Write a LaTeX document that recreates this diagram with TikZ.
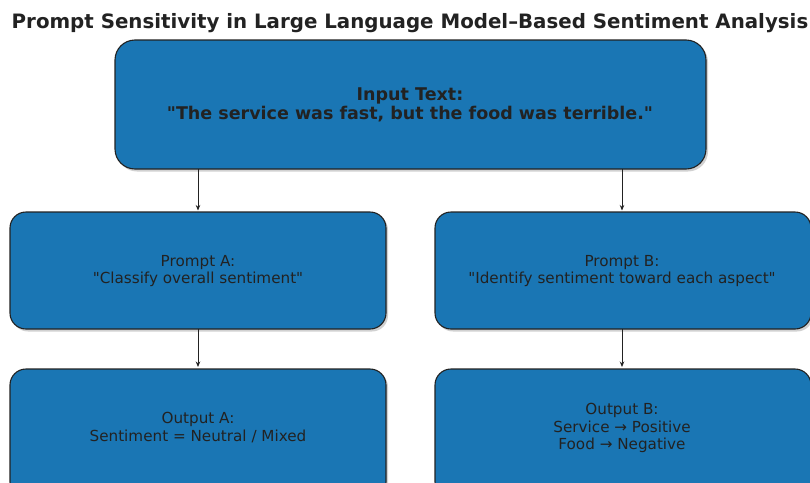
\documentclass[tikz,border=0pt]{standalone}
\usepackage{fontspec}
\setmainfont{DejaVu Sans}[Ligatures=TeXOff]
\usetikzlibrary{arrows.meta}
\definecolor{boxblue}{HTML}{1A76B4}
\definecolor{ink}{HTML}{222222}
\begin{document}
\begin{tikzpicture}[x=1pt,y=-1pt,
  card/.style={draw=ink,line width=1.1pt,fill=boxblue,rounded corners=#1},
  cardshadow/.style={fill=black,opacity=0.18,rounded corners=#1},
  label/.style={text=ink,align=center,font=\fontsize{15.2}{17.2}\selectfont},
  flow/.style={draw=ink,line width=1pt,-{Stealth[length=5.5pt,width=4.5pt]}}]
\useasboundingbox (0,0) rectangle (810,482);
\fill[white] (0,0) rectangle (810,482);

% title
\node[text=ink,font=\fontsize{19.8}{22}\bfseries\selectfont] (title) at (410,23)
  {Prompt Sensitivity in Large Language Model–Based Sentiment Analysis};

% soft shadows under the boxes
\fill[cardshadow=20pt] (117,42) rectangle (708,171.5);
\fill[cardshadow=16pt] (12,214) rectangle (388,331.5);
\fill[cardshadow=16pt] (437,214) rectangle (813,331.5);
\fill[cardshadow=16pt] (12,371) rectangle (388,500);
\fill[cardshadow=16pt] (437,371) rectangle (813,500);

% boxes
\draw[card=20pt] (115,40) rectangle (706,169);
\draw[card=16pt] (10,212) rectangle (386,329);
\draw[card=16pt] (435,212) rectangle (811,329);
\draw[card=16pt] (10,369) rectangle (386,498);
\draw[card=16pt] (435,369) rectangle (811,498);

% anchor points for the boxes
\coordinate (inA) at (198,169);
\coordinate (inB) at (622,169);
\coordinate (pAtop) at (198,210.5);
\coordinate (pBtop) at (622,210.5);
\coordinate (pAbot) at (198,329);
\coordinate (pBbot) at (622,329);
\coordinate (oAtop) at (198,367);
\coordinate (oBtop) at (622,367);

% texts
\node[label,font=\fontsize{17.5}{19.5}\bfseries\selectfont] (input) at (410,105)
  {Input Text:\\"The service was fast, but the food was terrible."};
\node[label] (promptA) at (198,271) {Prompt A:\\"Classify overall sentiment"};
\node[label] (promptB) at (622,271) {Prompt B:\\"Identify sentiment toward each aspect"};
\node[label] (outA) at (198,427.5) {Output A:\\Sentiment = Neutral / Mixed};
\node[label] (outB) at (622,428) {Output B:\\Service → Positive\\Food → Negative};

% connectors
\draw[flow] (inA) -- (pAtop);
\draw[flow] (inB) -- (pBtop);
\draw[flow] (pAbot) -- (oAtop);
\draw[flow] (pBbot) -- (oBtop);
\end{tikzpicture}
\end{document}
